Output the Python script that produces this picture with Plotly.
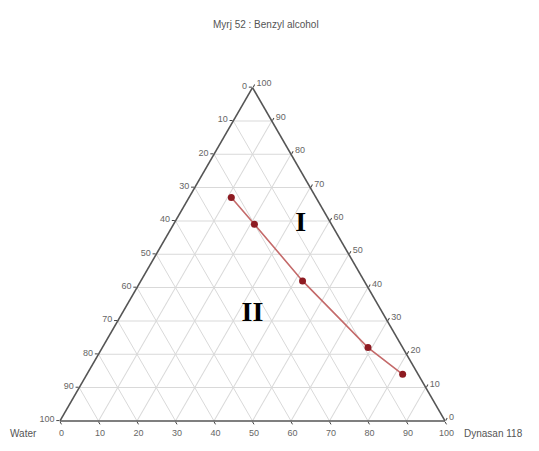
import plotly.graph_objects as go

# Phase boundary compositions (%), one entry per measured point
myrj_benzyl = [67, 59, 42, 22, 14]
water = [22, 20, 16, 9, 4]
dynasan = [11, 21, 42, 69, 82]

# Region labels and their compositions (%)
region_names = ["I", "II"]
region_myrj = [59, 32]
region_water = [8, 34]
region_dynasan = [33, 34]

tick_values = list(range(0, 101, 10))

fig = go.Figure()

fig.add_trace(go.Scatterternary(
    a=myrj_benzyl, b=water, c=dynasan,
    mode="lines+markers",
    line=dict(color="#c46a6a", width=1.6),
    marker=dict(color="#8e1b22", size=7),
    hoverinfo="a+b+c",
    showlegend=False,
))

fig.add_trace(go.Scatterternary(
    a=region_myrj, b=region_water, c=region_dynasan,
    mode="text",
    text=region_names,
    textfont=dict(family="Liberation Serif", size=28, color="#000000", weight="bold"),
    hoverinfo="skip",
    showlegend=False,
))

tick_font = dict(family="Liberation Sans", size=9, color="#666666")


def axis():
    return dict(
        title=dict(text=""),
        min=0,
        tickmode="array",
        tickvals=tick_values,
        # each edge is labelled with the complementary scale (100 - value)
        ticktext=[str(100 - v) for v in tick_values],
        tickfont=tick_font,
        ticks="outside",
        ticklen=3,
        tickcolor="#444444",
        linecolor="#555555",
        linewidth=1.6,
        showgrid=True,
        gridcolor="#d9d9d9",
        gridwidth=1,
    )


corner_font = dict(family="Liberation Sans", size=10, color="#555555")

fig.update_layout(
    width=539,
    height=451,
    margin=dict(l=0, r=0, t=0, b=0),
    paper_bgcolor="white",
    plot_bgcolor="white",
    ternary=dict(
        sum=100,
        bgcolor="white",
        domain=dict(x=[60 / 539, 445 / 539], y=[30 / 451, 363.5 / 451]),
        aaxis=axis(),
        baxis=axis(),
        caxis=axis(),
    ),
    annotations=[
        dict(text="Myrj 52 : Benzyl alcohol", x=266 / 539, y=1 - 17 / 451,
             xanchor="center", xref="paper", yref="paper", showarrow=False,
             font=corner_font),
        dict(text="Water", x=23 / 539, y=1 - 441 / 451, xanchor="center",
             xref="paper", yref="paper", showarrow=False, font=corner_font),
        dict(text="Dynasan 118", x=462 / 539, y=1 - 441 / 451, xanchor="left",
             xref="paper", yref="paper", showarrow=False, font=corner_font),
    ],
)

fig.write_html("out.html")
